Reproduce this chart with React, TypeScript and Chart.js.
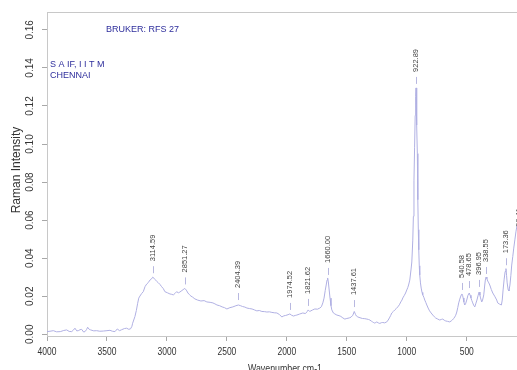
import React, { useEffect, useRef } from 'react';
import { Chart, registerables } from 'chart.js';

Chart.register(...registerables);

// Raman spectrum (wavenumber cm-1, intensity)
const wavenumbers = [
  4000, 3975, 3947, 3920, 3889, 3860, 3836, 3815, 3794, 3780, 3767, 3752, 3739, 3725, 3711, 3695, 3683, 3670, 3661, 3648,
  3636, 3610, 3586, 3560, 3531, 3500, 3475, 3455, 3433, 3414, 3395, 3378, 3355, 3336, 3318, 3303, 3292, 3286, 3267, 3255,
  3244, 3235, 3225, 3210, 3197, 3183, 3169, 3155, 3142, 3130, 3119, 3108, 3100, 3085, 3072, 3058, 3044, 3030, 3017, 2995,
  2975, 2960, 2947, 2932, 2919, 2905, 2892, 2875, 2858, 2851, 2838, 2825, 2812, 2800, 2785, 2767, 2745, 2717, 2690, 2667,
  2640, 2617, 2600, 2583, 2560, 2540, 2520, 2500, 2475, 2450, 2425, 2404, 2385, 2370, 2350, 2333, 2310, 2290, 2270, 2250,
  2230, 2208, 2185, 2167, 2145, 2125, 2105, 2083, 2062, 2042, 2025, 2010, 1990, 1975, 1960, 1945, 1930, 1917, 1895, 1867,
  1845, 1830, 1822, 1810, 1800, 1785, 1767, 1745, 1725, 1712, 1700, 1690, 1680, 1672, 1665, 1660, 1654, 1648, 1640, 1632,
  1625, 1612, 1600, 1583, 1565, 1550, 1533, 1517, 1500, 1480, 1465, 1450, 1438, 1428, 1420, 1408, 1390, 1370, 1350, 1333,
  1320, 1308, 1295, 1285, 1275, 1267, 1258, 1250, 1238, 1225, 1212, 1200, 1185, 1167, 1155, 1145, 1135, 1125, 1112, 1100,
  1088, 1075, 1062, 1050, 1040, 1033, 1020, 1010, 1000, 992, 985, 975, 965, 958, 950, 945, 940, 935, 930, 926,
  923, 920, 915, 912, 908, 904, 900, 896, 892, 886, 880, 873, 867, 858, 850, 842, 833, 822, 810, 797,
  783, 770, 760, 742, 725, 712, 700, 688, 675, 660, 642, 630, 620, 610, 600, 592, 583, 575, 567, 558,
  552, 545, 541, 535, 530, 524, 517, 510, 500, 490, 479, 472, 465, 458, 450, 442, 433, 425, 415, 405,
  397, 390, 385, 375, 368, 358, 350, 345, 339, 332, 325, 316, 308, 295, 283, 267, 250, 242, 225, 211,
  204, 197, 188, 180, 173, 168, 163, 155, 148, 140, 132, 125, 116, 108, 98, 90, 80
];
const intensity = [
  0.0014, 0.0016, 0.0019, 0.0013, 0.0014, 0.0020, 0.0023, 0.0015, 0.0014, 0.0022, 0.0032, 0.0018, 0.0019, 0.0024, 0.0026, 0.0012, 0.0014, 0.0025, 0.0037, 0.0026,
  0.0023, 0.0018, 0.0019, 0.0016, 0.0017, 0.0019, 0.0021, 0.0016, 0.0014, 0.0028, 0.0019, 0.0024, 0.0030, 0.0032, 0.0026, 0.0029, 0.0042, 0.0058, 0.0093, 0.0125,
  0.0163, 0.0190, 0.0201, 0.0215, 0.0224, 0.0250, 0.0264, 0.0272, 0.0285, 0.0290, 0.0300, 0.0295, 0.0289, 0.0278, 0.0271, 0.0262, 0.0250, 0.0240, 0.0224, 0.0218,
  0.0212, 0.0210, 0.0207, 0.0215, 0.0224, 0.0218, 0.0222, 0.0230, 0.0238, 0.0241, 0.0232, 0.0217, 0.0208, 0.0201, 0.0195, 0.0186, 0.0180, 0.0175, 0.0177, 0.0170,
  0.0168, 0.0165, 0.0160, 0.0154, 0.0150, 0.0144, 0.0140, 0.0133, 0.0140, 0.0144, 0.0150, 0.0154, 0.0150, 0.0146, 0.0143, 0.0138, 0.0135, 0.0133, 0.0128, 0.0123,
  0.0125, 0.0120, 0.0119, 0.0117, 0.0118, 0.0115, 0.0113, 0.0112, 0.0104, 0.0091, 0.0097, 0.0099, 0.0103, 0.0107, 0.0100, 0.0096, 0.0099, 0.0101, 0.0106, 0.0112,
  0.0109, 0.0120, 0.0128, 0.0120, 0.0123, 0.0128, 0.0133, 0.0132, 0.0138, 0.0145, 0.0165, 0.0190, 0.0230, 0.0259, 0.0285, 0.0296, 0.0275, 0.0238, 0.0190, 0.0150,
  0.0128, 0.0112, 0.0107, 0.0101, 0.0098, 0.0094, 0.0086, 0.0080, 0.0083, 0.0086, 0.0090, 0.0100, 0.0120, 0.0105, 0.0096, 0.0091, 0.0087, 0.0083, 0.0082, 0.0080,
  0.0078, 0.0075, 0.0069, 0.0065, 0.0061, 0.0059, 0.0062, 0.0065, 0.0060, 0.0057, 0.0061, 0.0062, 0.0060, 0.0065, 0.0075, 0.0086, 0.0098, 0.0112, 0.0120, 0.0128,
  0.0135, 0.0144, 0.0155, 0.0170, 0.0180, 0.0191, 0.0205, 0.0217, 0.0233, 0.0245, 0.0259, 0.0285, 0.0338, 0.0380, 0.0495, 0.0620, 0.0810, 0.0980, 0.1150, 0.1250,
  0.1295, 0.1240, 0.1100, 0.0950, 0.0707, 0.0550, 0.0444, 0.0360, 0.0312, 0.0270, 0.0243, 0.0220, 0.0207, 0.0195, 0.0180, 0.0168, 0.0154, 0.0138, 0.0123, 0.0112,
  0.0101, 0.0092, 0.0086, 0.0080, 0.0075, 0.0078, 0.0080, 0.0074, 0.0070, 0.0068, 0.0065, 0.0070, 0.0075, 0.0082, 0.0091, 0.0100, 0.0117, 0.0140, 0.0165, 0.0185,
  0.0196, 0.0208, 0.0212, 0.0205, 0.0191, 0.0170, 0.0154, 0.0160, 0.0180, 0.0205, 0.0217, 0.0205, 0.0191, 0.0178, 0.0165, 0.0152, 0.0144, 0.0160, 0.0180, 0.0205,
  0.0222, 0.0205, 0.0191, 0.0170, 0.0180, 0.0207, 0.0259, 0.0285, 0.0301, 0.0292, 0.0280, 0.0270, 0.0259, 0.0235, 0.0217, 0.0200, 0.0180, 0.0165, 0.0158, 0.0154,
  0.0180, 0.0233, 0.0290, 0.0330, 0.0345, 0.0310, 0.0270, 0.0235, 0.0228, 0.0259, 0.0310, 0.0364, 0.0410, 0.0453, 0.0500, 0.0538, 0.0575
];

const xTicks = [4000, 3500, 3000, 2500, 2000, 1500, 1000, 500];
const yTicks = [0, 0.02, 0.04, 0.06, 0.08, 0.1, 0.12, 0.14, 0.16];

const peakPositions = [3114.59, 2851.27, 2404.39, 1974.52, 1821.62, 1660.0, 1437.61, 922.89, 540.58, 478.65, 396.95, 338.55, 173.36, 66.41];
const peakHeights = [0.0300, 0.0241, 0.0159, 0.0107, 0.0128, 0.0291, 0.0122, 0.1295, 0.0212, 0.0222, 0.0228, 0.0296, 0.0342, 0.048];
const peakLabels = ['3114.59', '2851.27', '2404.39', '1974.52', '1821.62', '1660.00', '1437.61', '922.89', '540.58', '478.65', '396.95', '338.55', '173.36', '66.41'];

const headerText = 'BRUKER: RFS 27';
const labLines = ['S A IF, I I T M', 'CHENNAI'];
const xTitle = 'Wavenumber cm-1';
const yTitle = 'Raman Intensity';

const FONT = '"Liberation Sans", Arial, Helvetica, sans-serif';

const textPlugin = {
  id: 'rTexts',
  afterDraw(chart: any) {
    const ctx = chart.ctx;
    const xs = chart.scales.x;
    const ys = chart.scales.y;
    const area = chart.chartArea;
    ctx.save();
    // top box line
    ctx.strokeStyle = '#c8c8c8';
    ctx.lineWidth = 1;
    ctx.beginPath();
    ctx.moveTo(area.left, Math.round(area.top) + 0.5);
    ctx.lineTo(area.right, Math.round(area.top) + 0.5);
    ctx.stroke();

    // y tick labels (rotated, R style)
    ctx.fillStyle = '#333';
    ctx.font = `10px ${FONT}`;
    ctx.textAlign = 'center';
    ctx.textBaseline = 'middle';
    yTicks.forEach((v) => {
      const py = ys.getPixelForValue(v);
      ctx.save();
      ctx.translate(30.5, py);
      ctx.rotate(-Math.PI / 2);
      ctx.fillText(v.toFixed(2), 0, 0);
      ctx.restore();
    });
    // x tick labels
    xTicks.forEach((v) => {
      const px = xs.getPixelForValue(v);
      ctx.save();
      ctx.translate(px, 352);
      ctx.scale(0.85, 1);
      ctx.fillText(String(v), 0, 0);
      ctx.restore();
    });
    // axis titles
    ctx.save();
    ctx.font = `11px ${FONT}`;
    ctx.textBaseline = 'alphabetic';
    ctx.translate(285, 372);
    ctx.scale(0.8, 1);
    ctx.fillText(xTitle, 0, 0);
    ctx.restore();
    ctx.save();
    ctx.font = `12px ${FONT}`;
    ctx.translate(16.5, 170);
    ctx.rotate(-Math.PI / 2);
    ctx.fillText(yTitle, 0, 0);
    ctx.restore();

    // header texts
    ctx.fillStyle = '#2e2e9c';
    ctx.font = `9px ${FONT}`;
    ctx.textAlign = 'left';
    ctx.fillText(headerText, 106, 30);
    labLines.forEach((t, i) => ctx.fillText(t, 50, 65 + i * 11));

    // peak labels
    peakPositions.forEach((wn, i) => {
      const px = xs.getPixelForValue(wn);
      const py = ys.getPixelForValue(peakHeights[i]);
      ctx.strokeStyle = '#b8b8e0';
      ctx.lineWidth = 1;
      ctx.beginPath();
      ctx.moveTo(Math.round(px) + 0.5, py - 4);
      ctx.lineTo(Math.round(px) + 0.5, py - 11);
      ctx.stroke();
      ctx.save();
      ctx.fillStyle = '#444';
      ctx.font = `7.5px ${FONT}`;
      ctx.textAlign = 'left';
      ctx.textBaseline = 'middle';
      ctx.translate(px, py - 16);
      ctx.rotate(-Math.PI / 2);
      ctx.fillText(peakLabels[i], 0, 0);
      ctx.restore();
    });
    ctx.restore();
  },
};

export default function App() {
  const ref = useRef<HTMLCanvasElement | null>(null);
  useEffect(() => {
    document.body.style.margin = '0';
    const canvas = ref.current;
    if (!canvas) return;
    const points = wavenumbers.map((w, i) => ({ x: w, y: intensity[i] }));
    const chart = new Chart(canvas, {
      type: 'scatter',
      data: {
        datasets: [
          {
            data: points,
            showLine: true,
            borderColor: '#b0b0e3',
            borderWidth: 1,
            pointRadius: 0,
            tension: 0,
          },
        ],
      },
      options: {
        responsive: false,
        animation: false,
        devicePixelRatio: 1,
        layout: { padding: { top: 12, left: 0, right: 0, bottom: 0 } },
        plugins: { legend: { display: false }, tooltip: { enabled: false } },
        scales: {
          x: {
            type: 'linear',
            reverse: true,
            min: 81,
            max: 4000,
            afterBuildTicks: (s: any) => {
              s.ticks = xTicks.map((v) => ({ value: v }));
            },
            afterFit: (s: any) => {
              s.height = 34;
            },
            ticks: { display: false, includeBounds: false },
            grid: { display: true, drawOnChartArea: false, drawTicks: true, tickLength: 5, color: '#a8a8a8' },
            border: { display: true, color: '#c8c8c8' },
          },
          y: {
            type: 'linear',
            min: -0.0009,
            max: 0.1694,
            afterBuildTicks: (s: any) => {
              s.ticks = yTicks.map((v) => ({ value: v }));
            },
            afterFit: (s: any) => {
              s.width = 47;
            },
            ticks: { display: false },
            grid: { display: true, drawOnChartArea: false, drawTicks: true, tickLength: 5, color: '#a8a8a8' },
            border: { display: true, color: '#c8c8c8' },
          },
        },
      },
      plugins: [textPlugin],
    });
    return () => chart.destroy();
  }, []);
  return (
    <div style={{ width: 517, height: 370, overflow: 'hidden', background: '#fff' }}>
      <canvas ref={ref} width={517} height={370} style={{ width: 517, height: 370, display: 'block' }} />
    </div>
  );
}
